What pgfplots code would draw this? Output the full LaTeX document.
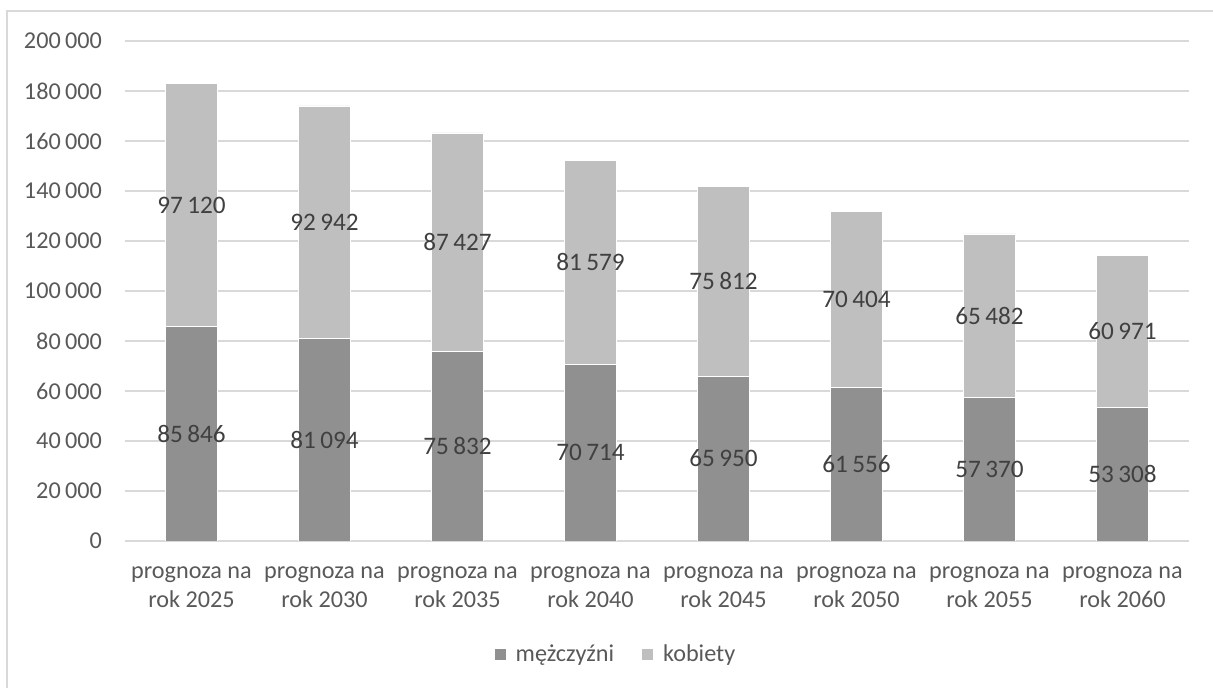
\documentclass[border=0pt]{standalone}
\usepackage{pgfplots}
\pgfplotsset{compat=1.18}
\usepackage{pgfplotstable}
\usepackage{fontspec}
\setmainfont{Carlito}

\definecolor{men}{HTML}{909090}
\definecolor{women}{HTML}{BFBFBF}
\definecolor{gridc}{HTML}{D9D9D9}
\definecolor{tickc}{HTML}{595959}
\definecolor{labc}{HTML}{404040}

% population forecast: m = men, k = women
\pgfplotstableread{
x m k
0 85846 97120
1 81094 92942
2 75832 87427
3 70714 81579
4 65950 75812
5 61556 70404
6 57370 65482
7 53308 60971
}\popdata

\pgfplotsset{
  popframe/.style={
    scale only axis, width=532pt, height=250pt,
    xmin=-0.5, xmax=7.5, ymin=0, ymax=200000,
    /pgf/number format/fixed,
    /pgf/number format/precision=0,
    /pgf/number format/1000 sep={\hspace{0.18em}},
    /pgf/number format/assume math mode=true,
  }
}

\begin{document}
\begin{tikzpicture}[font=\fontsize{12.1}{14.5}\selectfont]
\begin{axis}[
  popframe,
  ybar stacked, bar width=26pt,
  axis line style={draw=none},
  major tick length=0pt,
  ytick distance=20000,
  ymajorgrids, grid style={gridc, line width=0.9pt},
  scaled y ticks=false,
  xtick={0,...,7},
  xticklabels={
    {\strut prognoza na\\rok 2025},
    {\strut prognoza na\\rok 2030},
    {\strut prognoza na\\rok 2035},
    {\strut prognoza na\\rok 2040},
    {\strut prognoza na\\rok 2045},
    {\strut prognoza na\\rok 2050},
    {\strut prognoza na\\rok 2055},
    {\strut prognoza na\\rok 2060}},
  xticklabel style={align=center, text=tickc, yshift=-5.3pt},
  yticklabel style={text=tickc, xshift=-8pt},
  legend style={draw=none, fill=none, at={(0.4624,-0.228)}, anchor=center,
    text=tickc, font=\fontsize{12.1}{14.5}\selectfont,
    /tikz/every odd column/.append style={column sep=3pt},
    /tikz/every even column/.append style={column sep=12pt}},
  legend columns=2,
  legend image code/.code={\path[#1, draw=none] (0pt,-2.75pt) rectangle (5.5pt,2.75pt);},
]
\addplot[fill=men, draw=white, line width=0.3pt]
  table[x=x, y=m] {\popdata};
\addplot[fill=women, draw=white, line width=0.3pt]
  table[x=x, y=k] {\popdata};
\legend{mężczyźni, kobiety}
\end{axis}
% value labels, centred in each segment
\begin{axis}[
  popframe, hide axis,
  nodes near coords={\pgfmathprintnumber{\pgfplotspointmeta}},
  point meta=explicit,
  every node near coord/.append style={anchor=center, text=labc,
    font=\fontsize{12.6}{14.5}\selectfont},
]
\addplot[draw=none, mark=none]
  table[x=x, y expr=\thisrow{m}/2, meta=m] {\popdata};
\addplot[draw=none, mark=none]
  table[x=x, y expr=\thisrow{m}+\thisrow{k}/2, meta=k] {\popdata};
\end{axis}
% chart frame
\draw[gridc, line width=1pt] (-59pt,-80pt) -- (-59pt,265pt) -- (550pt,265pt);
\pgfresetboundingbox
\useasboundingbox (-62.5pt,-73.5pt) rectangle (544pt,270.5pt);
\end{tikzpicture}
\end{document}
